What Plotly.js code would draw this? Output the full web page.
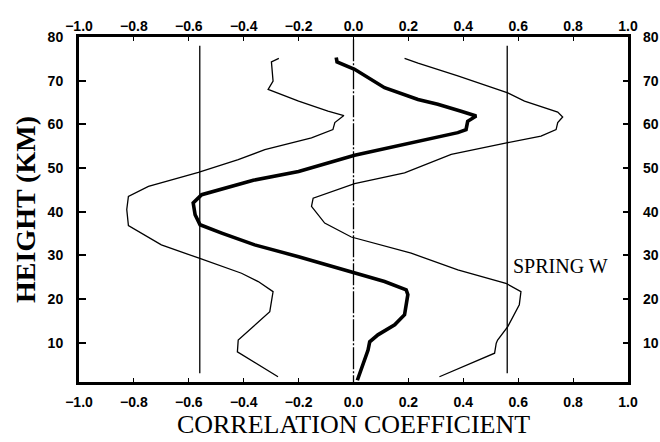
<!DOCTYPE html>
<html>
<head>
<meta charset="utf-8">
<script src="https://cdn.plot.ly/plotly-3.0.1.min.js"></script>
<style>html,body{margin:0;padding:0;background:#fff;}#chart{width:660px;height:442px;}</style>
</head>
<body>
<div id="chart"></div>
<script>
// Mean correlation profile (thick curve)
const meanCorr   = [-0.063,-0.06,0.004,0.113,0.235,0.307,0.392,0.447,0.416,0.41,0.38,0.235,0.004,-0.2,-0.365,-0.553,-0.584,-0.577,-0.559,-0.48,-0.36,-0.2,-0.032,0.113,0.192,0.198,0.186,0.15,0.089,0.059,0.053,0.035,0.014];
const meanHeight = [75.3,74.3,72.6,68.4,65.7,64.6,63.0,61.9,60.7,58.8,58.1,56.1,52.9,49.2,47.2,43.9,42.0,39.3,37.0,35.1,32.4,29.7,26.7,24.0,22.1,21.0,16.4,14.1,11.8,10.2,8.3,4.9,1.4];

// Lower bound (left thin curve)
const lowCorr   = [-0.272,-0.299,-0.293,-0.311,-0.2,-0.093,-0.035,-0.068,-0.075,-0.153,-0.323,-0.42,-0.565,-0.747,-0.82,-0.826,-0.82,-0.7,-0.565,-0.408,-0.347,-0.293,-0.305,-0.372,-0.42,-0.423,-0.275];
const lowHeight = [75.1,74.3,69.9,68.0,65.3,63.0,62.0,60.4,58.8,56.9,54.2,51.9,49.0,45.8,43.5,40.5,36.8,32.4,29.4,25.9,24.0,21.7,17.1,13.3,10.6,7.9,2.2];

// Upper bound (right thin curve)
const upCorr   = [0.186,0.235,0.38,0.562,0.623,0.744,0.762,0.744,0.738,0.683,0.562,0.356,0.186,0.004,-0.147,-0.153,-0.105,-0.008,0.21,0.38,0.555,0.61,0.604,0.562,0.525,0.52,0.514,0.313];
const upHeight = [75.1,74.0,71.1,67.2,65.3,62.8,61.7,60.4,58.8,57.3,55.8,53.1,48.9,46.4,43.1,41.2,37.4,34.2,30.5,26.7,23.6,21.7,18.7,13.7,10.6,9.9,7.6,2.2];

// Significance levels and zero reference
const sigLevel = 0.56;
const sigHeights = [78, 3];
const zeroHeights = [79.5, 1];

const xTicks = [-1.0,-0.8,-0.6,-0.4,-0.2,0.0,0.2,0.4,0.6,0.8,1.0];
const yTicks = [10,20,30,40,50,60,70,80];
const labelText = "SPRING W";
const labelPos = [0.575, 27.6];

const tickFont = {family: "Liberation Sans, Arial, sans-serif", size: 14, color: "#000", weight: "bold"};

const traces = [
  {x: [-sigLevel, -sigLevel], y: sigHeights, mode: "lines", line: {color: "#000", width: 1.3}, hoverinfo: "skip", showlegend: false},
  {x: [sigLevel, sigLevel], y: sigHeights, mode: "lines", line: {color: "#000", width: 1.3}, hoverinfo: "skip", showlegend: false},
  {x: [0, 0], y: zeroHeights, mode: "lines", line: {color: "#000", width: 1.3, dash: "22px,2px,2px,2px"}, hoverinfo: "skip", showlegend: false},
  {x: lowCorr, y: lowHeight, mode: "lines", line: {color: "#000", width: 1.3}, showlegend: false},
  {x: upCorr, y: upHeight, mode: "lines", line: {color: "#000", width: 1.3}, showlegend: false},
  {x: meanCorr, y: meanHeight, mode: "lines", line: {color: "#000", width: 3.6}, showlegend: false},
  {x: [null], y: [null], xaxis: "x2", yaxis: "y2", mode: "lines", hoverinfo: "skip", showlegend: false}
];

const layout = {
  width: 660, height: 442,
  margin: {l: 79, r: 32, t: 37, b: 60},
  paper_bgcolor: "#fff", plot_bgcolor: "#fff",
  showlegend: false,
  xaxis: {
    range: [-1, 1], tickvals: xTicks, tickformat: ".1f",
    ticks: "inside", ticklen: 4, tickwidth: 1, tickcolor: "#000",
    showgrid: false, zeroline: false,
    showline: true, linewidth: 3, linecolor: "#000", mirror: true,
    tickfont: tickFont, ticklabelstandoff: 5,
    title: {text: "CORRELATION COEFFICIENT", font: {family: "Liberation Serif, Times New Roman, serif", size: 26, color: "#000"}, standoff: 6}
  },
  xaxis2: {
    overlaying: "x", matches: "x", side: "top", anchor: "y",
    range: [-1, 1], tickvals: xTicks, tickformat: ".1f",
    ticks: "inside", ticklen: 4, tickwidth: 1, tickcolor: "#000",
    showgrid: false, zeroline: false, showline: false,
    tickfont: tickFont, ticklabelstandoff: 2
  },
  yaxis: {
    range: [1, 80], tickvals: yTicks,
    ticks: "inside", ticklen: 7, tickwidth: 2, tickcolor: "#000",
    showgrid: false, zeroline: false,
    showline: true, linewidth: 3, linecolor: "#000", mirror: true,
    tickfont: tickFont, ticklabelstandoff: 10,
    title: {text: "HEIGHT (KM)", font: {family: "Liberation Serif, Times New Roman, serif", size: 28, color: "#000", weight: "bold"}, standoff: 4}
  },
  yaxis2: {
    overlaying: "y", matches: "y", side: "right", anchor: "x",
    range: [1, 80], tickvals: yTicks,
    ticks: "inside", ticklen: 5, tickwidth: 2, tickcolor: "#000",
    showgrid: false, zeroline: false, showline: false,
    tickfont: tickFont, ticklabelstandoff: 14
  },
  annotations: [{
    x: labelPos[0], y: labelPos[1], xref: "x", yref: "y",
    text: labelText, showarrow: false, xanchor: "left", yanchor: "middle",
    font: {family: "Liberation Serif, Times New Roman, serif", size: 20, color: "#000"}
  }]
};

Plotly.newPlot("chart", traces, layout, {displayModeBar: false, staticPlot: true});
</script>
</body>
</html>
